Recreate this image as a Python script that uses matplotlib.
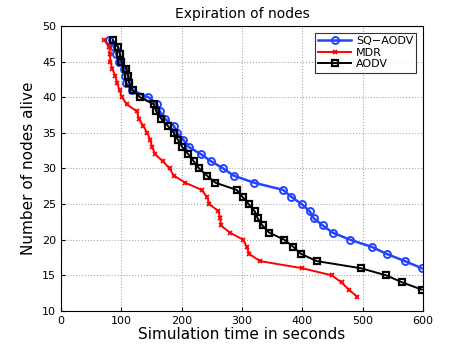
import matplotlib
matplotlib.use("Agg")
import matplotlib.pyplot as plt

# nodes alive (count down) and time at which each count was reached
sq_nodes = list(range(48, 15, -1))
sq_time = [80, 88, 92, 96, 104, 106, 108, 117, 145, 159, 164, 172, 187, 192,
           203, 212, 232, 249, 269, 286, 320, 368, 382, 399, 412, 419, 434,
           450, 479, 515, 540, 570, 598]

mdr_nodes = list(range(48, 11, -1))
mdr_time = [72, 80, 81, 82, 85, 90, 93, 97, 101, 109, 126, 129, 136, 143, 148,
            151, 156, 169, 180, 187, 206, 233, 242, 246, 261, 264, 265, 280,
            302, 308, 312, 330, 400, 449, 465, 477, 491]

aodv_nodes = list(range(48, 12, -1))
aodv_time = [86, 95, 98, 100, 108, 111, 113, 119, 131, 154, 158, 166, 177, 187,
             194, 201, 211, 220, 229, 242, 256, 291, 301, 311, 321, 326, 334,
             345, 370, 385, 398, 424, 497, 539, 566, 598]

fig = plt.figure(figsize=(4.67, 3.51), dpi=100)
ax = fig.add_axes([0.1306, 0.114, 0.7752, 0.812])

ax.plot(sq_time, sq_nodes, color="#2244ff", lw=1.8, marker="o", ms=5,
        mfc="none", mew=1.4, label="SQ\u2212AODV")
ax.plot(mdr_time, mdr_nodes, color="red", lw=1.4, marker="x", ms=3.5,
        mew=1.3, label="MDR")
ax.plot(aodv_time, aodv_nodes, color="black", lw=1.4, marker="s", ms=4.5,
        mfc="none", mew=1.6, label="AODV")

ax.set_xlim(0, 600)
ax.set_ylim(10, 50)
ax.set_xticks(range(0, 601, 100))
ax.set_yticks(range(10, 51, 5))
ax.tick_params(direction="in", labelsize=8, length=3)
ax.grid(True, linestyle=":", color="#aaaaaa", linewidth=0.8)

ax.set_title("Expiration of nodes", fontsize=10)
ax.set_xlabel("Simulation time in seconds", fontsize=11, labelpad=1)
ax.set_ylabel("Number of nodes alive", fontsize=11, labelpad=4)

leg = ax.legend(loc="upper right", fontsize=8, fancybox=False,
                handlelength=3.0, borderpad=0.3, labelspacing=0.15,
                handletextpad=0.4, borderaxespad=0.6)
leg.get_frame().set_edgecolor("black")
leg.get_frame().set_linewidth(0.8)

fig.savefig("out.png", dpi=100)
